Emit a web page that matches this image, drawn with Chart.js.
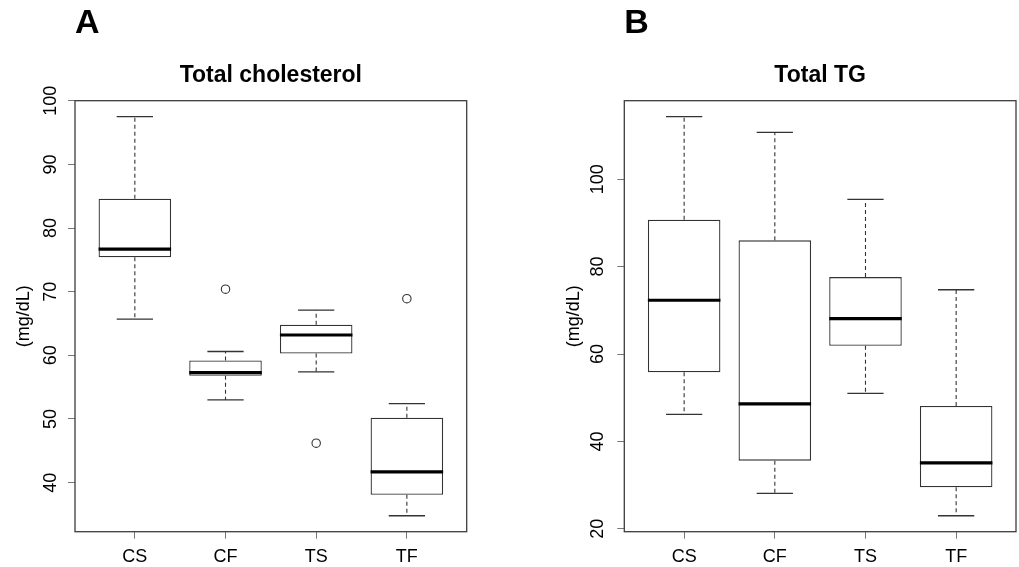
<!DOCTYPE html>
<html><head><meta charset="utf-8">
<script src="https://cdn.jsdelivr.net/npm/chart.js@4/dist/chart.umd.min.js"></script>
<style>
html,body{margin:0;padding:0;background:#fff;overflow:hidden;width:1019px;height:567px}
canvas{position:absolute;top:0}
</style></head><body>
<canvas id="cA" width="510" height="567" style="left:0"></canvas>
<canvas id="cB" width="509" height="567" style="left:510px"></canvas>
<script>
const categories = ['CS', 'CF', 'TS', 'TF'];

// Panel A: Total cholesterol (mg/dL)
const cholMin = [65.7, 53.0, 57.4, 34.8];
const cholQ1 = [75.4, 56.8, 60.3, 38.1];
const cholMedian = [76.7, 57.3, 63.2, 41.7];
const cholQ3 = [84.6, 59.2, 64.8, 50.2];
const cholMax = [97.5, 60.6, 67.1, 52.4];
const cholOutliers = [[], [70.4], [46.2], [68.9]];
const cholTicks = [40, 50, 60, 70, 80, 90, 100];

// Panel B: Total TG (mg/dL)
const tgMin = [46.2, 28.1, 51.0, 23.0];
const tgQ1 = [55.8, 35.6, 61.9, 29.5];
const tgMedian = [72.3, 48.6, 68.1, 35.1];
const tgQ3 = [90.7, 86.0, 77.6, 48.1];
const tgMax = [114.3, 110.7, 95.4, 74.7];
const tgOutliers = [[], [], [], []];
const tgTicks = [20, 40, 60, 80, 100];

const FONT = '"Liberation Sans", Arial, Helvetica, sans-serif';

const framePlugin = {
  id: 'frame',
  afterDatasetsDraw(chart) {
    const {ctx, chartArea: a} = chart;
    ctx.save();
    ctx.strokeStyle = '#3c3c3c';
    ctx.lineWidth = 1.3;
    ctx.strokeRect(a.left, a.top, a.right - a.left, a.bottom - a.top);
    ctx.restore();
  }
};

function rRange(mins, maxs, outs) {
  const all = mins.concat(maxs, outs.flat());
  const lo = Math.min(...all), hi = Math.max(...all);
  const d = (hi - lo) * 0.04;
  return [lo - d, hi + d];
}

function makePanel(id, o) {
  const n = categories.length;
  const med = [], box = [], whisk = [], caps = [], outl = [];
  for (let i = 0; i < n; i++) {
    const c = i + 1;
    med.push({x: c - 0.4, y: o.median[i]}, {x: c + 0.4, y: o.median[i]}, {x: c, y: null});
    box.push({x: c, y: [o.q1[i], o.q3[i]]});
    whisk.push({x: c, y: o.q3[i]}, {x: c, y: o.max[i]}, {x: c, y: null},
               {x: c, y: o.q1[i]}, {x: c, y: o.min[i]}, {x: c, y: null});
    caps.push({x: c - 0.2, y: o.max[i]}, {x: c + 0.2, y: o.max[i]}, {x: c, y: null},
              {x: c - 0.2, y: o.min[i]}, {x: c + 0.2, y: o.min[i]}, {x: c, y: null});
    o.outliers[i].forEach(v => outl.push({x: c, y: v}));
  }
  const [ymin, ymax] = rRange(o.min, o.max, o.outliers);
  const lineBase = {type: 'line', pointRadius: 0, fill: false, spanGaps: false, tension: 0};
  return new Chart(document.getElementById(id), {
    type: 'bar',
    data: {
      datasets: [
        Object.assign({}, lineBase, {label: 'median', data: med, borderColor: '#000', borderWidth: 3.2, order: 0, borderCapStyle: 'butt'}),
        {type: 'bar', label: 'box', data: box, backgroundColor: '#fff', borderColor: '#333', borderWidth: 1.3,
         borderSkipped: false, categoryPercentage: 1, barPercentage: 0.8, order: 1},
        Object.assign({}, lineBase, {label: 'whisker', data: whisk, borderColor: '#333', borderWidth: 1.1, borderDash: [4, 3], order: 2}),
        Object.assign({}, lineBase, {label: 'cap', data: caps, borderColor: '#333', borderWidth: 1.3, order: 2}),
        Object.assign({}, lineBase, {label: 'outlier', data: outl, showLine: false, pointRadius: 4.2, pointStyle: 'circle',
          pointBackgroundColor: '#fff', pointBorderColor: '#333', pointBorderWidth: 1.1, order: 0})
      ]
    },
    options: {
      responsive: false,
      animation: false,
      events: [],
      layout: {padding: {left: 0, right: o.padRight, top: 0, bottom: 0}},
      plugins: {
        legend: {display: false},
        tooltip: {enabled: false},
        title: {display: true, text: o.letter, align: 'start', fullSize: false, color: '#000',
          font: {family: FONT, size: 34, weight: 'bold', lineHeight: 1}, padding: {top: 7, bottom: 0}},
        subtitle: {display: true, text: o.title, align: 'center', fullSize: false, color: '#000',
          font: {family: FONT, size: 23, weight: 'bold', lineHeight: 1}, padding: {top: 22.8, bottom: 13.9}}
      },
      scales: {
        x: {
          type: 'linear',
          offset: false,
          min: 0.5 - 0.04 * n,
          max: n + 0.5 + 0.04 * n,
          afterBuildTicks: s => { s.ticks = categories.map((_, i) => ({value: i + 1})); },
          afterFit: s => { s.height = 35.3; },
          grid: {offset: false, drawOnChartArea: false, drawTicks: true, tickLength: 7, color: '#777', lineWidth: 1},
          border: {display: false},
          ticks: {autoSkip: false, maxRotation: 0, padding: 8, color: '#000',
            font: {family: FONT, size: 18}, callback: v => categories[Math.round(v) - 1]}
        },
        y: {
          type: 'linear',
          min: ymin,
          max: ymax,
          afterBuildTicks: s => { s.ticks = o.ticks.map(v => ({value: v})); },
          afterFit: s => { s.width = o.yWidth; },
          grid: {drawOnChartArea: false, drawTicks: true, tickLength: 7, color: '#777', lineWidth: 1},
          border: {display: false},
          ticks: {autoSkip: false, minRotation: 90, maxRotation: 90, crossAlign: 'center', padding: o.tickPad,
            color: '#000', font: {family: FONT, size: 18}, callback: v => String(v)},
          title: {display: true, text: '(mg/dL)', color: '#000', font: {family: FONT, size: 18},
            padding: {top: o.titlePad, bottom: 0}}
        }
      }
    },
    plugins: [framePlugin]
  });
}

makePanel('cA', {
  letter: 'A', title: 'Total cholesterol',
  min: cholMin, q1: cholQ1, median: cholMedian, q3: cholQ3, max: cholMax, outliers: cholOutliers, ticks: cholTicks,
  yWidth: 75, padRight: 43.3, tickPad: 2, titlePad: 13.2
});
makePanel('cB', {
  letter: 'B', title: 'Total TG',
  min: tgMin, q1: tgQ1, median: tgMedian, q3: tgQ3, max: tgMax, outliers: tgOutliers, ticks: tgTicks,
  yWidth: 114.3, padRight: 3, tickPad: 3.8, titlePad: 53.2
});
</script></body></html>
